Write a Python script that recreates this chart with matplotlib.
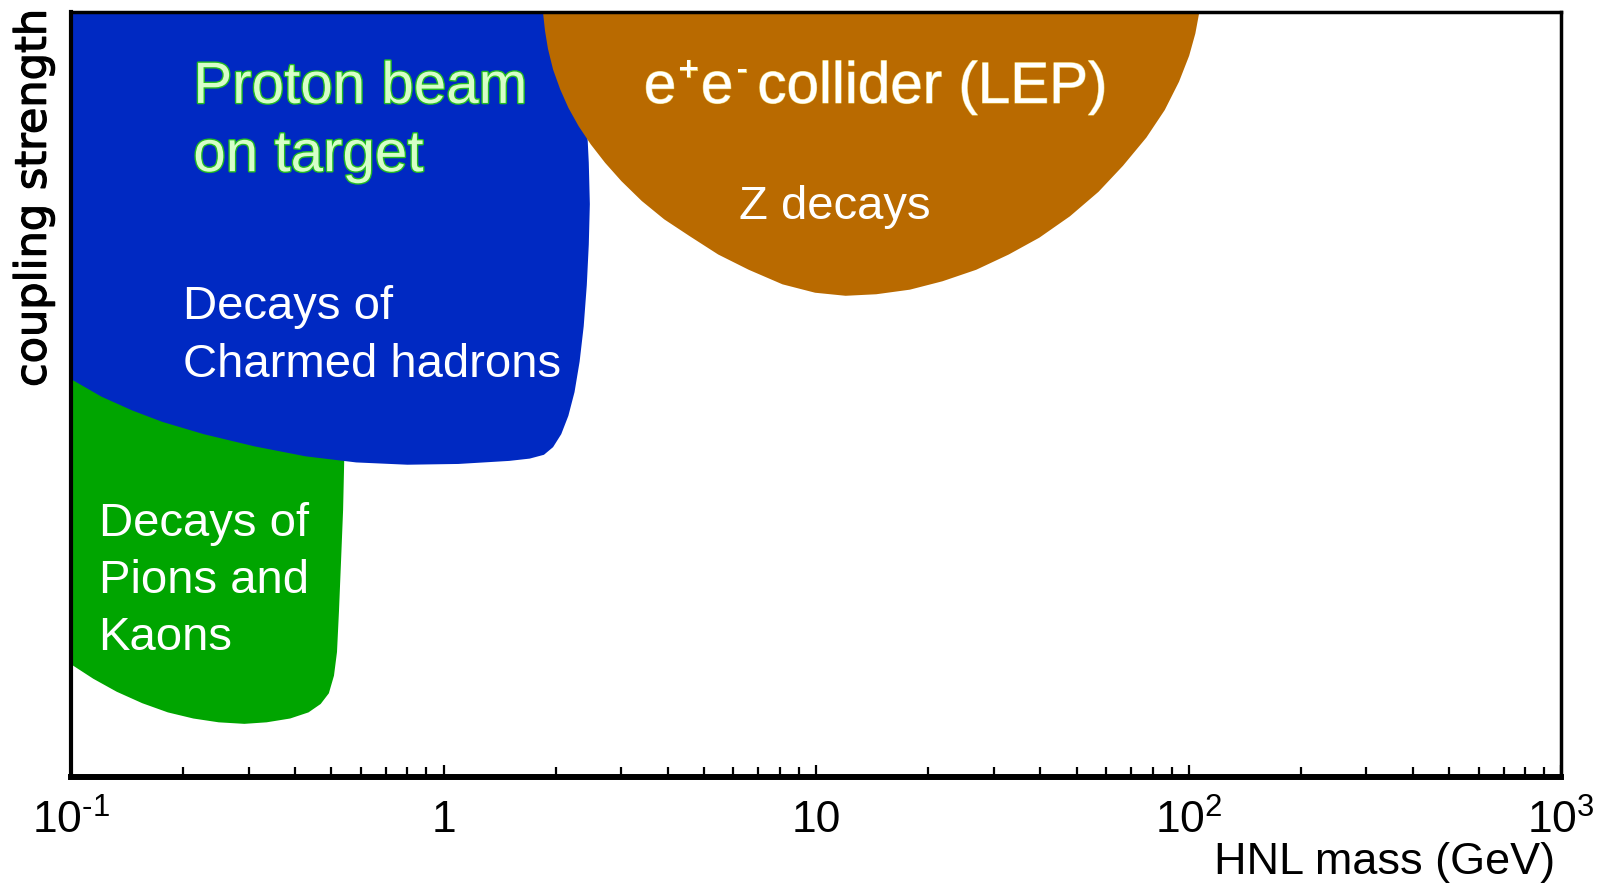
import matplotlib
matplotlib.use("Agg")
import matplotlib.pyplot as plt
import matplotlib.patheffects as pe
from matplotlib.ticker import FixedLocator, FixedFormatter, LogLocator, NullFormatter

# ---- data (HNL mass in GeV, coupling strength in arbitrary units 0..100) ----
mass_ticks = [0.1, 1, 10, 100, 1000]
mass_tick_labels = ["$10^{\u20101}$", "1", "10", "$10^{2}$", "$10^{3}$"]

# Decays of pions and kaons (green)
pk_mass = [0.1, 0.548, 0.541, 0.5376, 0.5309, 0.524, 0.5177, 0.5081, 0.4923,
           0.468, 0.4341, 0.3876, 0.3351, 0.292, 0.2492, 0.2130, 0.1820,
           0.1554, 0.1327, 0.1148, 0.1]
pk_coup = [52.9, 52.9, 40.8, 34.9, 28.3, 21.6, 16.3, 13.2, 10.9,
           9.5, 8.4, 7.6, 7.1, 6.9, 7.1, 7.6, 8.4,
           9.6, 11.1, 12.8, 14.7]

# Decays of charmed hadrons (blue)
ch_mass = [0.1, 2.190, 2.261, 2.363, 2.424, 2.454, 2.470, 2.454, 2.424, 2.378,
           2.319, 2.247, 2.163, 2.070, 1.968, 1.860, 1.703, 1.501, 1.096, 0.800,
           0.583, 0.426, 0.311, 0.227, 0.176, 0.146, 0.1208, 0.1]
ch_coup = [100, 100, 96.3, 90.9, 85.6, 80.3, 74.9, 69.6, 64.3, 58.9,
           54.3, 50.3, 47.2, 44.8, 43.1, 42.1, 41.6, 41.3, 40.9, 40.8,
           41.1, 41.9, 43.2, 44.8, 46.4, 47.9, 49.7, 52.0]

# Z decays at LEP (brown)
z_mass = [1.849, 1.872, 1.907, 1.968, 2.057, 2.163, 2.304, 2.485, 2.714, 3.002,
          3.405, 3.912, 4.578, 5.461, 6.597, 8.124, 9.94, 12.0, 14.50, 17.85,
          21.84, 26.89, 32.89, 39.73, 48.01, 57.27, 66.61, 77.00, 86.25, 94.2,
          100.3, 104.2, 106.8]
z_coup = [100, 97.6, 95.2, 92.5, 89.9, 87.5, 85.1, 82.7, 80.3, 77.9,
          75.3, 72.9, 70.7, 68.3, 66.3, 64.4, 63.3, 62.9, 63.1, 63.7,
          64.8, 66.3, 68.3, 70.5, 73.3, 76.5, 79.9, 83.6, 87.2, 90.9,
          94.3, 97.2, 100]

GREEN = "#00A500"
BLUE = "#0029C2"
BROWN = "#B96A00"

plt.rcParams["font.family"] = ["Liberation Sans", "DejaVu Sans"]
plt.rcParams["mathtext.fontset"] = "custom"
plt.rcParams["mathtext.rm"] = "Liberation Sans"
plt.rcParams["mathtext.it"] = "Liberation Sans"

fig = plt.figure(figsize=(15.98, 8.84), dpi=100)
ax = fig.add_axes([0.0444, 0.1215, 0.9326, 0.8647])
ax.set_xscale("log")
ax.set_xlim(0.1, 1000)
ax.set_ylim(0, 100)

ax.fill(pk_mass, pk_coup, color=GREEN, lw=0, zorder=1)
ax.fill(ch_mass, ch_coup, color=BLUE, lw=0, zorder=2)
ax.fill(z_mass, z_coup, color=BROWN, lw=0, zorder=3)

# text annotations
lg = [pe.withStroke(linewidth=2.0, foreground="#22BB22")]
ax.text(0.0821, 0.8813, "Proton beam", transform=ax.transAxes, fontsize=42,
        color="#D6FFC8", va="baseline", ha="left", path_effects=lg, zorder=5)
ax.text(0.0821, 0.792, "on target", transform=ax.transAxes, fontsize=42,
        color="#D6FFC8", va="baseline", ha="left", path_effects=lg, zorder=5)

ly = [pe.withStroke(linewidth=0.8, foreground="#F0D060")]
yb = 0.8813
kw = dict(color="white", va="baseline", ha="left", path_effects=ly, zorder=5,
          textcoords="offset points", annotation_clip=False)
t1 = ax.text(0.3844, yb, "e", transform=ax.transAxes, fontsize=42, color="white",
             va="baseline", ha="left", path_effects=ly, zorder=5)
t2 = ax.annotate("+", xy=(1, yb), xycoords=(t1, "axes fraction"),
                 xytext=(1.5, 16.5), fontsize=25, **kw)
t3 = ax.annotate("e", xy=(1, yb), xycoords=(t2, "axes fraction"),
                 xytext=(1.5, 0), fontsize=42, **kw)
t4 = ax.annotate("-", xy=(1, yb), xycoords=(t3, "axes fraction"),
                 xytext=(2.0, 16.5), fontsize=25, **kw)
t5 = ax.annotate("collider (LEP)", xy=(1, yb), xycoords=(t4, "axes fraction"),
                 xytext=(7, 0), fontsize=42, **kw)

ax.text(0.448, 0.7293, "Z decays", transform=ax.transAxes, fontsize=34,
        color="white", va="baseline", ha="left", zorder=5)
ax.text(0.0752, 0.5987, "Decays of", transform=ax.transAxes, fontsize=34,
        color="white", va="baseline", ha="left", zorder=5)
ax.text(0.0752, 0.5227, "Charmed hadrons", transform=ax.transAxes, fontsize=34,
        color="white", va="baseline", ha="left", zorder=5)
ax.text(0.0185, 0.3147, "Decays of", transform=ax.transAxes, fontsize=34,
        color="white", va="baseline", ha="left", zorder=5)
ax.text(0.0185, 0.240, "Pions and", transform=ax.transAxes, fontsize=34,
        color="white", va="baseline", ha="left", zorder=5)
ax.text(0.0185, 0.1653, "Kaons", transform=ax.transAxes, fontsize=34,
        color="white", va="baseline", ha="left", zorder=5)

# axes styling
for side, lw in (("bottom", 4.3), ("left", 3.0), ("top", 2.5), ("right", 2.5)):
    ax.spines[side].set_linewidth(lw)
    ax.spines[side].set_color("black")
    ax.spines[side].set_zorder(10)

ax.xaxis.set_major_locator(FixedLocator(mass_ticks))
ax.xaxis.set_major_formatter(FixedFormatter(mass_tick_labels))
ax.xaxis.set_minor_locator(LogLocator(base=10, subs=range(2, 10)))
ax.xaxis.set_minor_formatter(NullFormatter())
ax.tick_params(axis="x", which="major", direction="in", length=9, width=1.6,
               pad=16.5, labelsize=32, top=False, labelfontfamily="Liberation Sans")
ax.tick_params(axis="x", which="minor", direction="in", length=7.4, width=1.6, top=False)
ax.set_yticks([])

ax.set_xlabel("HNL mass (GeV)", fontsize=32.4, family="Liberation Sans")
ax.xaxis.label.set_ha("right")
ax.xaxis.label.set_va("baseline")
ax.xaxis.set_label_coords(0.9958, -0.128)

ax.set_ylabel("coupling strength", fontsize=31, family="DejaVu Sans",
              path_effects=[pe.withStroke(linewidth=0.9, foreground="black")])
ax.yaxis.label.set_rotation_mode("default")
ax.yaxis.label.set_ha("center")
ax.yaxis.label.set_va("top")
ax.yaxis.set_label_coords(-0.025, 1.003)

fig.savefig("out.png", dpi=100)
